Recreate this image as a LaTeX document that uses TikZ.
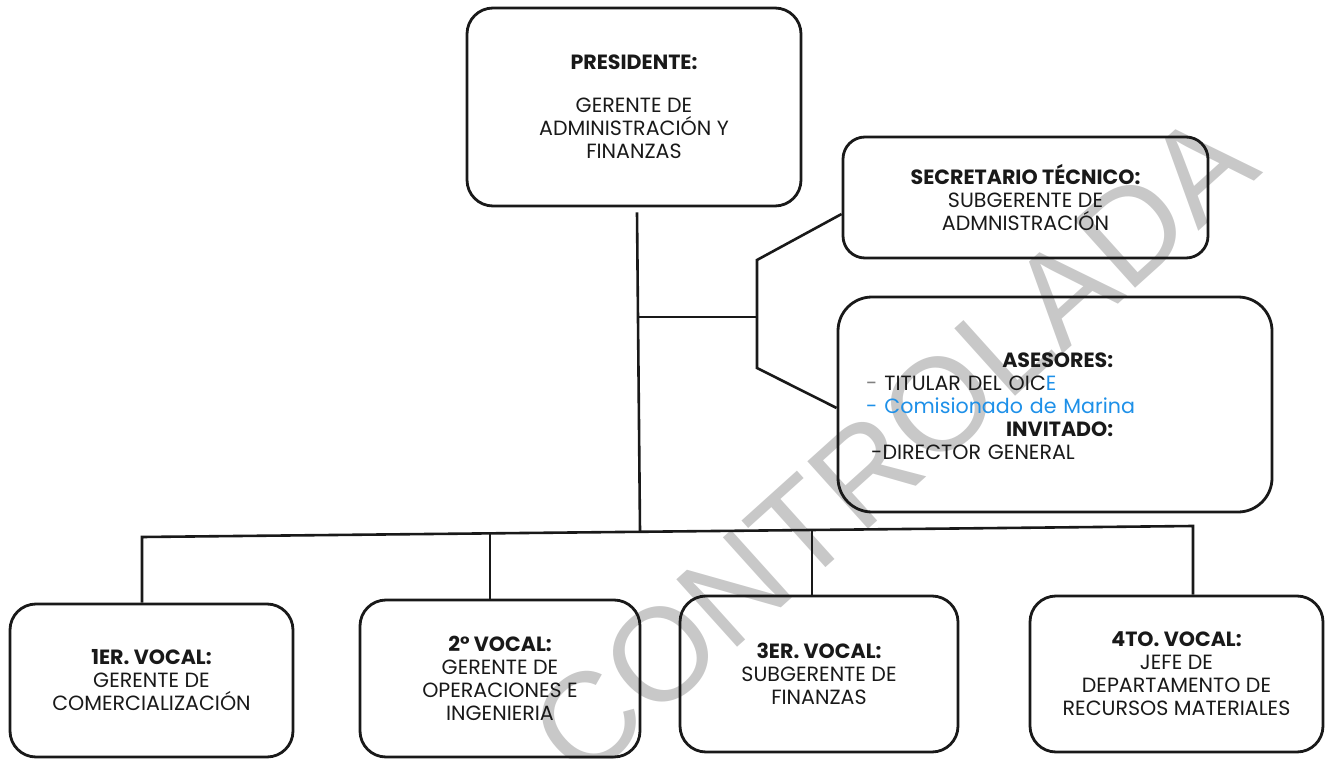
\documentclass[tikz,border=0pt]{standalone}
\usepackage{fontspec}
\setmainfont{Poppins}
\newfontfamily\wmfont{Liberation Sans}
\definecolor{ink}{RGB}{25,25,25}
\definecolor{azul}{RGB}{30,144,232}
\definecolor{wmgray}{RGB}{200,200,200}
\begin{document}
\begin{tikzpicture}[x=1pt,y=-1pt,
  txt/.style={font=\fontsize{20.6}{23}\selectfont, text=ink},
  box/.style={txt, draw=ink, line width=2.8pt, rounded corners=26pt, inner sep=0pt, align=center},
  conn/.style={draw=ink, line width=2.6pt},
  wmark/.style={font=\wmfont\fontsize{132}{132}\selectfont, text=wmgray, inner sep=0pt}]
\useasboundingbox (0,0) rectangle (1325,759);
% watermark
\node[wmark, rotate=42] (wm) at (893,446) {CONTROLADA};
% boxes
\node[box, minimum width=334pt, minimum height=198pt] (pres) at (634,107)
  {\textbf{PRESIDENTE:}\\[20pt]GERENTE DE\\ADMINISTRACIÓN Y\\FINANZAS};
\node[box, rounded corners=22pt, minimum width=365pt, minimum height=121pt] (sec) at (1025.5,197.5)
  {\textbf{SECRETARIO TÉCNICO:}\\SUBGERENTE DE\\ADMNISTRACIÓN};
\node[box, rounded corners=34pt, minimum width=434pt, minimum height=215pt] (ase) at (1055,404.5) {};
\node[txt, text width=247pt, align=left, inner sep=0pt, anchor=west] (asetext) at (866,406)
  {\hspace*{\fill}\textbf{ASESORES:}\\
   \mbox{{\color{gray}-} TITULAR DEL OIC{\color{azul}E}}\\
   \mbox{\color{azul}- Comisionado de Marina}\\
   \hspace*{\fill}\textbf{INVITADO:}\hspace*{3pt}\\
   \mbox{\hspace*{5pt}-DIRECTOR GENERAL}};
\node[box, minimum width=283pt, minimum height=153pt] (v1) at (151.5,680.5)
  {\textbf{1ER. VOCAL:}\\GERENTE DE\\COMERCIALIZACIÓN};
\node[box, minimum width=280pt, minimum height=157pt] (v2) at (500,678.5)
  {\textbf{2° VOCAL:}\\GERENTE DE\\OPERACIONES E\\INGENIERIA};
\node[box, minimum width=278pt, minimum height=156pt] (v3) at (819,674)
  {\textbf{3ER. VOCAL:}\\SUBGERENTE DE\\FINANZAS};
\node[box, minimum width=293pt, minimum height=156pt] (v4) at (1176.5,674)
  {\textbf{4TO. VOCAL:}\\JEFE DE\\DEPARTAMENTO DE\\RECURSOS MATERIALES};
% junction coordinates
\coordinate (busC) at (640,531.8);
\coordinate (tj) at (638,317);
\coordinate (bm) at (757,317);
\coordinate (bt) at (757,260);
\coordinate (bb) at (757,368);
\coordinate (busL) at (142,537);
\coordinate (d2) at (490,533.4);
\coordinate (d3) at (812,530);
\coordinate (busR) at (1193,526);
% connectors
\draw[conn] ([shift={(3,5)}]pres.south) -- (busC);
\draw[conn] (tj) -- (bm);
\draw[conn] ([shift={(0,16.5)}]sec.west) -- (bt) -- (bb) -- ([shift={(0,3.5)}]ase.west);
\draw[conn] (busL |- v1.north) -- (busL) -- (busR) -- (busR |- v4.north);
\draw[conn] (d2) -- (d2 |- v2.north);
\draw[conn] (d3) -- (d3 |- v3.north);
\end{tikzpicture}
\end{document}
